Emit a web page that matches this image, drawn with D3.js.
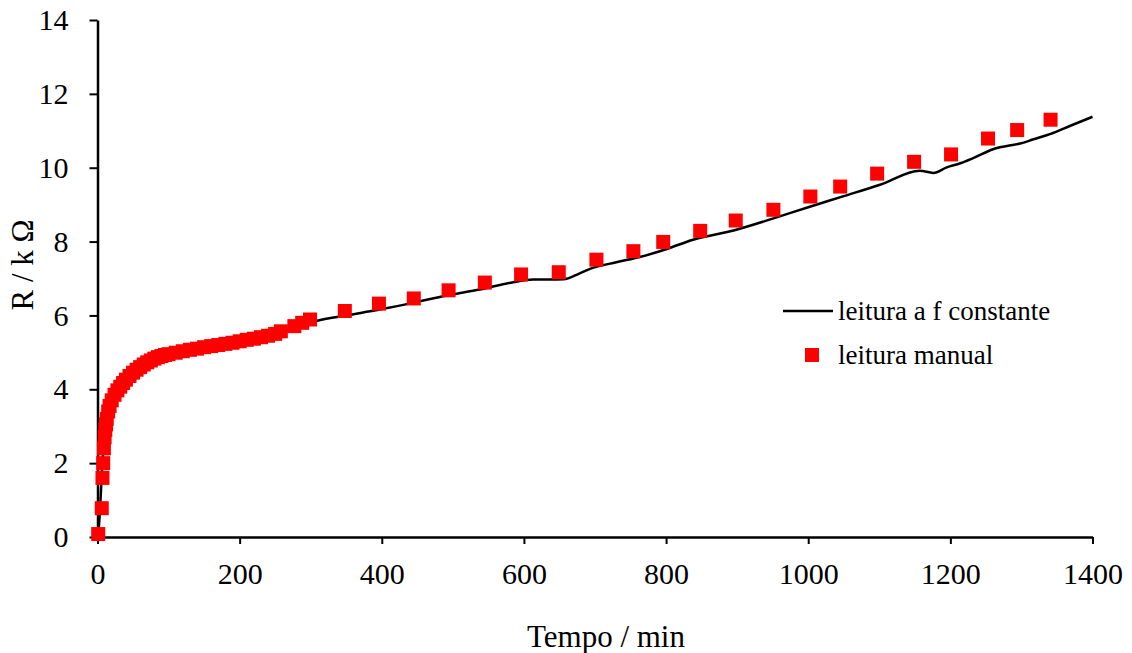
<!DOCTYPE html>
<html>
<head>
<meta charset="utf-8">
<script src="https://cdn.jsdelivr.net/npm/d3@7"></script>
<style>
  html, body { margin: 0; padding: 0; background: #fff; }
  svg { display: block; font-family: "Liberation Serif", "Times New Roman", serif; }
</style>
</head>
<body>
<svg id="chart" width="1132" height="653"></svg>
<script>
// Continuous reading at constant frequency (time in min, resistance in kΩ)
const lineTime = [0, 2, 4, 6, 8, 10, 15, 20, 30, 40, 60, 80, 100, 150, 200, 250, 290, 308, 350, 397, 444, 491, 538, 585, 613, 636, 656, 674, 693, 730, 763, 801, 838, 895, 950, 1000, 1050, 1101, 1157, 1176, 1195, 1214, 1232, 1260, 1303, 1317, 1340, 1368, 1400];
const lineR    = [0, 0.3, 0.9, 1.7, 2.3, 2.75, 3.3, 3.65, 3.95, 4.2, 4.55, 4.78, 4.92, 5.12, 5.3, 5.5, 5.75, 5.85, 6.0, 6.16, 6.34, 6.54, 6.7, 6.9, 6.97, 6.97, 6.98, 7.1, 7.26, 7.44, 7.58, 7.8, 8.05, 8.3, 8.62, 8.93, 9.23, 9.54, 9.92, 9.86, 10.01, 10.12, 10.26, 10.5, 10.68, 10.77, 10.91, 11.13, 11.38];

// Manual readings
const manualTime = [1, 6, 7, 8, 9, 10, 11, 12, 13, 15, 17, 20, 24, 28, 32, 36, 40, 45, 50, 55, 60, 65, 70, 75, 80, 85, 90, 95, 100, 110, 120, 130, 140, 150, 160, 170, 180, 190, 200, 210, 220, 230, 240, 250, 258, 277, 288, 299, 348, 396, 445, 494, 545, 596, 649, 702, 754, 796, 848, 898, 951, 1003, 1045, 1097, 1149, 1201, 1253, 1294, 1341];
const manualR    = [0.08, 0.78, 1.6, 2.0, 2.4, 2.7, 2.9, 3.05, 3.2, 3.4, 3.55, 3.7, 3.85, 3.97, 4.07, 4.17, 4.26, 4.36, 4.45, 4.53, 4.6, 4.67, 4.73, 4.78, 4.83, 4.87, 4.9, 4.93, 4.95, 4.99, 5.03, 5.07, 5.1, 5.14, 5.17, 5.2, 5.23, 5.26, 5.3, 5.34, 5.37, 5.41, 5.45, 5.5, 5.57, 5.71, 5.8, 5.89, 6.12, 6.32, 6.46, 6.68, 6.89, 7.11, 7.17, 7.51, 7.74, 7.99, 8.29, 8.57, 8.86, 9.22, 9.49, 9.84, 10.16, 10.36, 10.79, 11.02, 11.3];

const xTicks = [0, 200, 400, 600, 800, 1000, 1200, 1400];
const yTicks = [0, 2, 4, 6, 8, 10, 12, 14];

const seriesNames = ["leitura a f constante", "leitura manual"];
const xTitle = "Tempo / min";
const yTitle = "R / k Ω";

const svg = d3.select("#chart");

const x = d3.scaleLinear().domain([0, 1400]).range([97.5, 1092.5]);
const y = d3.scaleLinear().domain([0, 14]).range([537, 20]);

const TICK_FONT = 30;
const TITLE_FONT = 31;
const LEGEND_FONT = 27;

// Axes
const xAxis = svg.append("g")
  .attr("transform", `translate(0,${y(0)})`)
  .call(d3.axisBottom(x).tickValues(xTicks).tickFormat(d3.format("d"))
    .tickSize(7).tickPadding(19).tickSizeOuter(0));
const yAxis = svg.append("g")
  .attr("transform", `translate(${x(0)},0)`)
  .call(d3.axisLeft(y).tickValues(yTicks).tickFormat(d3.format("d"))
    .tickSize(8).tickPadding(21).tickSizeOuter(0));

[xAxis, yAxis].forEach(g => {
  g.select(".domain").attr("stroke", "#000").attr("stroke-width", 2.5);
  g.selectAll(".tick line").attr("stroke", "#000").attr("stroke-width", 2);
  g.selectAll(".tick text")
    .attr("fill", "#000")
    .style("font-family", "'Liberation Serif', serif")
    .style("font-size", TICK_FONT + "px");
});

// Constant-frequency curve
const lineData = lineTime.map((t, i) => [t, lineR[i]]);
svg.append("path")
  .datum(lineData)
  .attr("fill", "none")
  .attr("stroke", "#000")
  .attr("stroke-width", 2.5)
  .attr("d", d3.line().x(d => x(d[0])).y(d => y(d[1])).curve(d3.curveMonotoneX));

// Manual readings as red squares
const S = 14;
const manualData = manualTime.map((t, i) => [t, manualR[i]]);
svg.append("g")
  .selectAll("rect")
  .data(manualData)
  .join("rect")
  .attr("x", d => x(d[0]) - S / 2)
  .attr("y", d => y(d[1]) - S / 2)
  .attr("width", S)
  .attr("height", S)
  .attr("fill", "#ff0000");

// Legend
const legend = svg.append("g");
legend.append("line")
  .attr("x1", 783).attr("x2", 833).attr("y1", 311).attr("y2", 311)
  .attr("stroke", "#000").attr("stroke-width", 2.5);
legend.append("text")
  .attr("x", 838).attr("y", 311).attr("dy", "0.35em")
  .style("font-size", LEGEND_FONT + "px").text(seriesNames[0]);
legend.append("rect")
  .attr("x", 805).attr("y", 348).attr("width", S).attr("height", S)
  .attr("fill", "#ff0000");
legend.append("text")
  .attr("x", 838).attr("y", 355).attr("dy", "0.35em")
  .style("font-size", LEGEND_FONT + "px").text(seriesNames[1]);

// Axis titles
svg.append("text")
  .attr("x", 606).attr("y", 647)
  .attr("text-anchor", "middle")
  .style("font-size", TITLE_FONT + "px")
  .text(xTitle);
svg.append("text")
  .attr("transform", `translate(33,265) rotate(-90)`)
  .attr("text-anchor", "middle")
  .style("font-size", TITLE_FONT + "px")
  .text(yTitle);
</script>
</body>
</html>
